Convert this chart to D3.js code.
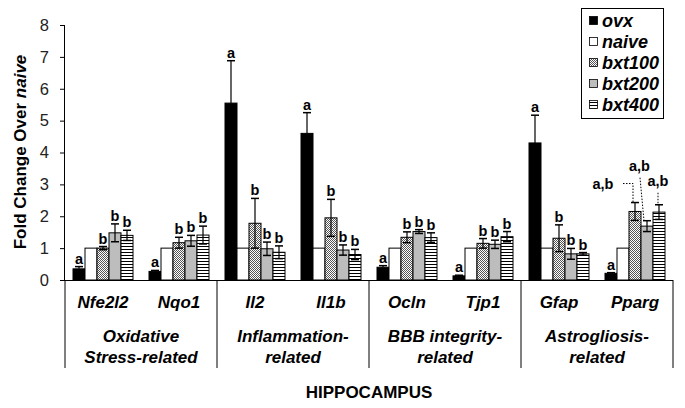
<!DOCTYPE html>
<html><head><meta charset="utf-8">
<script src="https://cdn.jsdelivr.net/npm/d3@7"></script>
<style>body{margin:0;background:#fff}svg{display:block;font-family:"Liberation Sans",Arial,sans-serif}</style>
</head><body><svg id="c" width="685" height="408"></svg>
<script>
const genes = ["Nfe2l2","Nqo1","Il2","Il1b","Ocln","Tjp1","Gfap","Pparg"];
const categories = [["Oxidative","Stress-related"],["Inflammation-","related"],["BBB integrity-","related"],["Astrogliosis-","related"]];
const series = ["ovx","naive","bxt100","bxt200","bxt400"];
const ovx = [0.35,0.27,5.55,4.6,0.4,0.13,4.3,0.21];
const ovxErr = [0.07,0.03,1.33,0.65,0.05,0.02,0.87,0.02];
const naive = [1,1,1,1,1,1,1,1];
const bxt100 = [1.0,1.17,1.78,1.95,1.34,1.15,1.31,2.15];
const bxt100Err = [0.05,0.17,0.78,0.58,0.17,0.15,0.42,0.28];
const bxt200 = [1.48,1.23,0.98,0.94,1.52,1.12,0.82,1.69];
const bxt200Err = [0.28,0.17,0.21,0.16,0.06,0.13,0.17,0.17];
const bxt400 = [1.40,1.41,0.87,0.80,1.33,1.36,0.82,2.13];
const bxt400Err = [0.16,0.28,0.20,0.16,0.15,0.16,0.04,0.23];
const sigOvx = ["a","a","a","a","a","a","a","a"];
const sigBxt = ["b","b","b","b","b","b","b","a,b"];
const yTicks = [0,1,2,3,4,5,6,7,8];

const values = {ovx, naive, bxt100, bxt200, bxt400};
const errs = {ovx: ovxErr, naive: null, bxt100: bxt100Err, bxt200: bxt200Err, bxt400: bxt400Err};

const svg = d3.select("#c");
const defs = svg.append("defs");
const pc = defs.append("pattern").attr("id","check").attr("patternUnits","userSpaceOnUse").attr("width",2).attr("height",2);
pc.append("rect").attr("width",2).attr("height",2).attr("fill","#fff");
pc.append("rect").attr("width",1).attr("height",1).attr("fill","#555");
pc.append("rect").attr("x",1).attr("y",1).attr("width",1).attr("height",1).attr("fill","#555");
const ps = defs.append("pattern").attr("id","stripe").attr("patternUnits","userSpaceOnUse").attr("width",4).attr("height",3);
ps.append("rect").attr("width",4).attr("height",3).attr("fill","#fff");
ps.append("rect").attr("y",0).attr("width",4).attr("height",1).attr("fill","#000");
const fills = {ovx:"#000", naive:"#fff", bxt100:"url(#check)", bxt200:"#bdbdbd", bxt400:"url(#stripe)"};

const x0 = 65, x1 = 673, yBase = 280;
const y = d3.scaleLinear().domain([0,8]).range([yBase,25]);
const xg = d3.scaleBand().domain(genes).range([x0,x1]);
const xs = d3.scaleBand().domain(series).range([8, xg.bandwidth()-8]);

// y axis
const yAxis = d3.axisLeft(y).tickValues(yTicks).tickSize(5).tickPadding(11).tickFormat(d3.format("d"));
const ga = svg.append("g").attr("transform",`translate(${x0},0)`).call(yAxis);
ga.select(".domain").attr("d",`M-0.5,${y(8)}V${yBase}`).attr("stroke","#000");
ga.selectAll(".tick line").attr("stroke","#000");
ga.selectAll(".tick text").attr("font-size",16.5).attr("fill","#222").attr("font-family","Liberation Sans, Arial");

// bars
genes.forEach((g,i)=>{
  const gx = xg(g);
  series.forEach(s=>{
    const v = values[s][i];
    svg.append("rect").attr("x",gx+xs(s)).attr("y",y(v)).attr("width",xs.bandwidth()).attr("height",yBase-y(v))
      .attr("fill",fills[s]).attr("stroke","#000").attr("stroke-width",1);
  });
});
// error bars
genes.forEach((g,i)=>{
  const gx = xg(g);
  series.forEach(s=>{
    if(!errs[s]) return;
    const v = values[s][i], e = errs[s][i];
    const cx = gx + xs(s) + xs.bandwidth()/2;
    const lo = s==="ovx" ? v : v - e;
    svg.append("line").attr("x1",cx).attr("x2",cx).attr("y1",y(lo)).attr("y2",y(v+e)).attr("stroke","#000").attr("stroke-width",1.2);
    svg.append("line").attr("x1",cx-4).attr("x2",cx+4).attr("y1",y(v+e)).attr("y2",y(v+e)).attr("stroke","#000").attr("stroke-width",1.5);
    if(s!=="ovx") svg.append("line").attr("x1",cx-4).attr("x2",cx+4).attr("y1",y(v-e)).attr("y2",y(v-e)).attr("stroke","#000").attr("stroke-width",1.5);
  });
});
// significance letters
genes.forEach((g,i)=>{
  const gx = xg(g);
  series.forEach(s=>{
    if(s==="naive") return;
    const v = values[s][i], e = errs[s][i];
    const cx = gx + xs(s) + xs.bandwidth()/2;
    const lab = s==="ovx" ? sigOvx[i] : sigBxt[i];
    const top = y(v+e);
    if(lab==="a,b"){
      let tx, ty;
      const dot = svg.append("path").attr("fill","none").attr("stroke","#000").attr("stroke-width",1).attr("stroke-dasharray","1.5,1.5");
      if(s==="bxt100"){ tx = cx-32; ty = top-13.5; dot.attr("d",`M${cx-12},${top-19}H${cx-2}V${top}`); }
      else if(s==="bxt200"){ tx = cx-7.5; ty = top-50; dot.attr("d",`M${cx-7},${top-43}L${cx-3},${top}`); }
      else { tx = cx-1; ty = top-19; dot.attr("d",`M${cx-1},${top-12}V${top}`); }
      svg.append("text").attr("x",tx).attr("y",ty).attr("text-anchor","middle").attr("font-size",14.5).attr("font-weight","bold").text(lab);
    } else {
      svg.append("text").attr("x",cx).attr("y",top-3).attr("text-anchor","middle").attr("font-size",14.5).attr("font-weight","bold").text(lab);
    }
  });
});

// baseline and separators
svg.append("line").attr("x1",60).attr("x2",x1).attr("y1",yBase+0.5).attr("y2",yBase+0.5).attr("stroke","#000");
[0,2,4,6,8].forEach(k=>{
  const sx = k<8 ? xg(genes[k]) : x1;
  svg.append("line").attr("x1",sx).attr("x2",sx).attr("y1",yBase).attr("y2",368).attr("stroke","#000");
});
// gene labels
genes.forEach(g=>{
  svg.append("text").attr("x",xg(g)+xg.bandwidth()/2).attr("y",308).attr("text-anchor","middle")
    .attr("font-size",17).attr("font-weight","bold").attr("font-style","italic").text(g);
});
categories.forEach((c,k)=>{
  const cx = xg(genes[2*k]) + xg.bandwidth();
  c.forEach((line,j)=>{
    svg.append("text").attr("x",cx).attr("y",342+21*j).attr("text-anchor","middle")
      .attr("font-size",17).attr("font-weight","bold").attr("font-style","italic").text(line);
  });
});
svg.append("text").attr("x",(x0+x1)/2).attr("y",398).attr("text-anchor","middle").attr("font-size",17).attr("font-weight","bold").text("HIPPOCAMPUS");

// y title
const yt = svg.append("text").attr("transform","translate(26,152) rotate(-90)").attr("text-anchor","middle").attr("font-size",17).attr("font-weight","bold");
yt.append("tspan").text("Fold Change Over ");
yt.append("tspan").attr("font-style","italic").text("naive");

// legend
const lg = svg.append("g");
lg.append("rect").attr("x",581.5).attr("y",8.5).attr("width",82).attr("height",110).attr("fill","#fff").attr("stroke","#000");
series.forEach((s,k)=>{
  const ly = 21 + 21*k;
  lg.append("rect").attr("x",589.5).attr("y",ly-4.5).attr("width",8).attr("height",8).attr("fill",fills[s]).attr("stroke","#000").attr("stroke-width",0.8);
  lg.append("text").attr("x",602).attr("y",ly+6).attr("font-size",18).attr("font-weight","bold").attr("font-style","italic").text(s);
});
</script></body></html>
